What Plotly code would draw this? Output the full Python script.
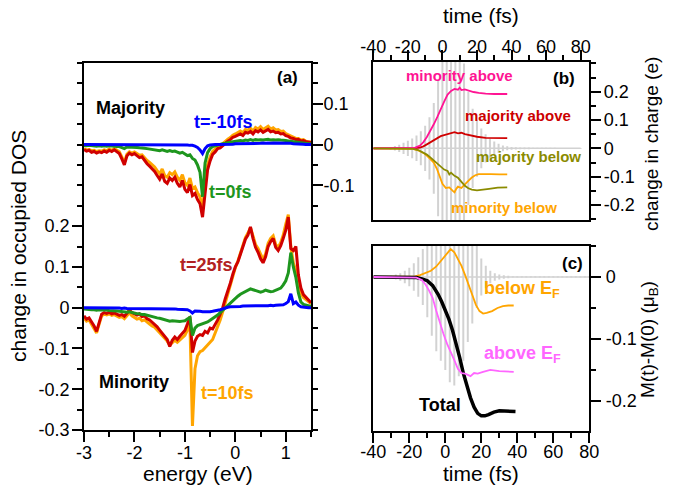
import plotly.graph_objects as go

# ---------------- data: panel (a) ----------------
energy = [-3.00, -2.95, -2.90, -2.85, -2.80, -2.75, -2.70, -2.65, -2.60, -2.55,
          -2.50, -2.45, -2.40, -2.35, -2.30, -2.25, -2.20, -2.15, -2.10, -2.05,
          -2.00, -1.95, -1.90, -1.85, -1.80, -1.75, -1.70, -1.65, -1.60, -1.55,
          -1.50, -1.45, -1.40, -1.35, -1.30, -1.25, -1.20, -1.15, -1.10, -1.05,
          -1.00, -0.95, -0.90, -0.85, -0.80, -0.75, -0.70, -0.65, -0.60, -0.55,
          -0.50, -0.45, -0.40, -0.35, -0.30, -0.25, -0.20, -0.15, -0.10, -0.05,
          0.00, 0.05, 0.10, 0.15, 0.20, 0.25, 0.30, 0.35, 0.40, 0.45,
          0.50, 0.55, 0.60, 0.65, 0.70, 0.75, 0.80, 0.85, 0.90, 0.95,
          1.00, 1.05, 1.10, 1.15, 1.20, 1.25, 1.30, 1.35, 1.40, 1.45, 1.50]

maj_m10 = [0.000, 0.000, 0.000, 0.000, 0.000, 0.000, 0.000, 0.000, 0.000, 0.000,
           0.000, 0.000, 0.000, 0.000, 0.000, 0.000, 0.000, 0.000, 0.000, 0.000,
           0.000, 0.000, 0.000, 0.000, 0.000, 0.000, 0.000, -0.001, -0.001, -0.001,
           -0.001, -0.001, -0.001, -0.001, -0.001, -0.001, -0.001, -0.001, -0.001, -0.001,
           -0.001, -0.001, -0.002, -0.002, -0.004, -0.007, -0.013, -0.022, -0.010, -0.003,
           -0.001, 0.000, 0.000, 0.000, 0.000, 0.000, 0.001, 0.001, 0.001, 0.001,
           0.002, 0.002, 0.002, 0.002, 0.003, 0.003, 0.003, 0.003, 0.003, 0.003,
           0.003, 0.004, 0.003, 0.004, 0.003, 0.004, 0.004, 0.003, 0.004, 0.003,
           0.003, 0.003, 0.003, 0.002, 0.002, 0.001, 0.001, 0.001, 0.000, 0.000, 0.000]

maj_0 = [-0.002, -0.003, -0.002, -0.003, -0.003, -0.004, -0.003, -0.004, -0.003, -0.004,
         -0.003, -0.004, -0.004, -0.005, -0.005, -0.008, -0.010, -0.006, -0.006, -0.007,
         -0.006, -0.007, -0.008, -0.008, -0.009, -0.010, -0.011, -0.012, -0.012, -0.014,
         -0.015, -0.013, -0.016, -0.017, -0.015, -0.017, -0.016, -0.019, -0.021, -0.019,
         -0.024, -0.027, -0.025, -0.034, -0.038, -0.050, -0.068, -0.128, -0.045, -0.020,
         -0.010, -0.005, -0.003, -0.001, 0.000, 0.002, 0.003, 0.005, 0.006, 0.007,
         0.008, 0.009, 0.010, 0.009, 0.011, 0.010, 0.012, 0.010, 0.012, 0.011,
         0.012, 0.011, 0.012, 0.013, 0.011, 0.012, 0.011, 0.012, 0.011, 0.011,
         0.010, 0.009, 0.008, 0.007, 0.006, 0.005, 0.004, 0.004, 0.003, 0.002, 0.002]

maj_10 = [-0.010, -0.013, -0.012, -0.015, -0.014, -0.017, -0.015, -0.016, -0.013, -0.015,
          -0.011, -0.014, -0.010, -0.014, -0.018, -0.030, -0.044, -0.024, -0.018, -0.021,
          -0.018, -0.022, -0.026, -0.025, -0.033, -0.039, -0.044, -0.050, -0.055, -0.064,
          -0.072, -0.060, -0.076, -0.080, -0.069, -0.074, -0.067, -0.080, -0.088, -0.074,
          -0.094, -0.100, -0.082, -0.108, -0.104, -0.118, -0.128, -0.160, -0.095, -0.050,
          -0.030, -0.017, -0.012, -0.005, -0.003, 0.003, 0.008, 0.013, 0.017, 0.023,
          0.026, 0.030, 0.033, 0.029, 0.037, 0.035, 0.040, 0.033, 0.042, 0.038,
          0.044, 0.037, 0.042, 0.045, 0.038, 0.041, 0.036, 0.037, 0.032, 0.033,
          0.027, 0.024, 0.020, 0.018, 0.015, 0.015, 0.011, 0.012, 0.008, 0.007, 0.006]

maj_25 = [-0.012, -0.016, -0.014, -0.019, -0.017, -0.021, -0.018, -0.020, -0.016, -0.019,
          -0.014, -0.017, -0.013, -0.018, -0.022, -0.035, -0.050, -0.028, -0.021, -0.025,
          -0.022, -0.027, -0.032, -0.030, -0.040, -0.047, -0.053, -0.060, -0.066, -0.076,
          -0.085, -0.072, -0.090, -0.095, -0.082, -0.088, -0.080, -0.095, -0.104, -0.088,
          -0.110, -0.118, -0.098, -0.125, -0.120, -0.135, -0.145, -0.178, -0.110, -0.062,
          -0.040, -0.024, -0.018, -0.010, -0.008, -0.002, 0.004, 0.008, 0.012, 0.018,
          0.020, 0.024, 0.026, 0.022, 0.030, 0.028, 0.032, 0.026, 0.034, 0.031,
          0.036, 0.030, 0.034, 0.037, 0.031, 0.033, 0.029, 0.030, 0.026, 0.027,
          0.022, 0.020, 0.016, 0.015, 0.012, 0.013, 0.009, 0.010, 0.007, 0.006, 0.005]

min_m10 = [0.000, 0.000, -0.001, 0.000, -0.001, -0.001, 0.000, -0.001, -0.001, -0.001,
           -0.001, -0.001, -0.001, -0.001, -0.001, -0.002, -0.001, -0.002, -0.002, -0.002,
           -0.002, -0.002, -0.002, -0.002, -0.002, -0.002, -0.002, -0.002, -0.002, -0.002,
           -0.002, -0.002, -0.003, -0.003, -0.003, -0.003, -0.003, -0.004, -0.004, -0.004,
           -0.004, -0.005, -0.008, -0.013, -0.008, -0.008, -0.009, -0.010, -0.010, -0.011,
           -0.010, -0.009, -0.008, -0.007, -0.005, -0.003, 0.000, 0.001, 0.002, 0.002,
           0.003, 0.003, 0.003, 0.004, 0.004, 0.004, 0.004, 0.005, 0.004, 0.005,
           0.005, 0.005, 0.005, 0.005, 0.006, 0.005, 0.006, 0.006, 0.006, 0.007,
           0.010, 0.015, 0.034, 0.010, 0.014, 0.006, 0.002, 0.001, 0.000, 0.000, 0.000]

min_0 = [-0.003, -0.004, -0.004, -0.005, -0.005, -0.006, -0.005, -0.005, -0.006, -0.006,
         -0.007, -0.007, -0.008, -0.008, -0.009, -0.010, -0.011, -0.011, -0.010, -0.012,
         -0.014, -0.015, -0.015, -0.017, -0.017, -0.019, -0.020, -0.022, -0.023, -0.025,
         -0.026, -0.028, -0.029, -0.031, -0.033, -0.032, -0.033, -0.034, -0.034, -0.033,
         -0.032, -0.028, -0.024, -0.068, -0.050, -0.044, -0.042, -0.040, -0.037, -0.035,
         -0.031, -0.027, -0.022, -0.018, -0.012, -0.006, 0.000, 0.006, 0.012, 0.018,
         0.024, 0.028, 0.033, 0.036, 0.040, 0.042, 0.046, 0.044, 0.042, 0.040,
         0.038, 0.040, 0.043, 0.041, 0.039, 0.040, 0.043, 0.045, 0.048, 0.056,
         0.066, 0.085, 0.135, 0.100, 0.074, 0.036, 0.014, 0.008, 0.006, 0.005, 0.004]

min_10 = [-0.025, -0.033, -0.030, -0.040, -0.052, -0.062, -0.040, -0.020, -0.016, -0.018,
          -0.015, -0.019, -0.017, -0.020, -0.024, -0.022, -0.027, -0.020, -0.012, -0.020,
          -0.025, -0.028, -0.026, -0.032, -0.030, -0.036, -0.040, -0.045, -0.048, -0.055,
          -0.062, -0.068, -0.074, -0.082, -0.092, -0.086, -0.080, -0.085, -0.080, -0.074,
          -0.068, -0.055, -0.040, -0.290, -0.150, -0.118, -0.108, -0.105, -0.098, -0.092,
          -0.085, -0.078, -0.062, -0.048, -0.030, -0.010, 0.012, 0.034, 0.055, 0.078,
          0.098, 0.114, 0.135, 0.155, 0.172, 0.183, 0.196, 0.176, 0.155, 0.145,
          0.130, 0.118, 0.132, 0.158, 0.170, 0.176, 0.155, 0.148, 0.160, 0.178,
          0.205, 0.228, 0.150, 0.110, 0.090, 0.055, 0.035, 0.025, 0.020, 0.015, 0.010]

min_25 = [-0.020, -0.028, -0.025, -0.034, -0.045, -0.058, -0.035, -0.016, -0.012, -0.014,
          -0.011, -0.015, -0.013, -0.016, -0.019, -0.017, -0.021, -0.014, -0.006, -0.012,
          -0.016, -0.018, -0.015, -0.022, -0.020, -0.027, -0.030, -0.036, -0.040, -0.047,
          -0.055, -0.062, -0.070, -0.078, -0.095, -0.080, -0.072, -0.078, -0.070, -0.064,
          -0.056, -0.040, -0.022, -0.110, -0.082, -0.070, -0.066, -0.068, -0.058, -0.062,
          -0.050, -0.052, -0.042, -0.030, -0.016, 0.000, 0.022, 0.040, 0.060, 0.082,
          0.100, 0.112, 0.132, 0.150, 0.168, 0.178, 0.198, 0.170, 0.148, 0.136,
          0.120, 0.110, 0.125, 0.150, 0.162, 0.170, 0.148, 0.140, 0.152, 0.170,
          0.190, 0.222, 0.145, 0.140, 0.150, 0.080, 0.048, 0.032, 0.026, 0.018, 0.012]

# ---------------- data: panel (b) ----------------
t_min_above = [-40, -30, -20, -16, -13, -11, -9, -7, -5, -3, -1, 1, 3, 5, 7, 9, 10, 11, 13, 15, 18, 21, 25, 30, 37.5]
v_min_above = [0, 0, 0, 0.002, 0.010, 0.022, 0.040, 0.060, 0.085, 0.110, 0.140, 0.165, 0.190, 0.203, 0.210,
               0.207, 0.214, 0.206, 0.208, 0.204, 0.199, 0.196, 0.193, 0.192, 0.192]

t_maj_above = [-40, -30, -20, -16, -13, -11, -9, -7, -5, -3, -1, 1, 3, 5, 7, 9, 11, 13, 16, 20, 25, 30, 37.5]
v_maj_above = [0, 0, 0, 0.001, 0.003, 0.007, 0.014, 0.022, 0.030, 0.037, 0.043, 0.047, 0.050, 0.054, 0.057,
               0.053, 0.055, 0.050, 0.046, 0.041, 0.037, 0.036, 0.036]

t_maj_below = [-40, -30, -20, -17, -14, -11, -9, -7, -5, -3, -1, 1, 3, 4, 5, 7, 9, 11, 13, 15, 17, 20, 23, 27, 32, 37.5]
v_maj_below = [0, 0, 0, -0.002, -0.006, -0.014, -0.022, -0.032, -0.042, -0.052, -0.065, -0.075, -0.080, -0.092,
               -0.086, -0.097, -0.104, -0.118, -0.132, -0.141, -0.146, -0.148, -0.147, -0.143, -0.139, -0.138]

t_min_below = [-40, -30, -20, -17, -14, -11, -9, -7, -5, -3, -1, 0, 2, 4, 6, 7, 8, 9, 11, 13, 15, 17, 19, 21, 24, 28, 33, 37.5]
v_min_below = [0, 0, 0, -0.002, -0.007, -0.016, -0.026, -0.037, -0.050, -0.075, -0.110, -0.125, -0.140, -0.138,
               -0.150, -0.155, -0.143, -0.135, -0.140, -0.126, -0.115, -0.103, -0.095, -0.091, -0.090, -0.091,
               -0.092, -0.092]

# ---------------- data: panel (c) ----------------
t_total = [-40, -30, -20, -16, -13, -10, -7, -4, -2, 0, 2, 4, 6, 8, 10, 12, 14, 16, 18, 20, 22, 24, 27, 30, 34, 39]
v_total = [0, 0, 0, -0.001, -0.003, -0.006, -0.014, -0.028, -0.040, -0.053, -0.068, -0.086, -0.106, -0.130,
           -0.155, -0.176, -0.195, -0.210, -0.220, -0.224, -0.224, -0.222, -0.218, -0.216, -0.216, -0.217]

t_below_ef = [-40, -30, -20, -17, -14, -11, -8, -5, -2, 0, 2, 3, 5, 7, 9, 11, 13, 15, 17, 19, 21, 23, 26, 29, 32, 35, 38]
v_below_ef = [0, 0, 0, 0.001, 0.003, 0.006, 0.010, 0.017, 0.027, 0.035, 0.042, 0.045, 0.040, 0.030, 0.018,
              0.003, -0.013, -0.030, -0.045, -0.055, -0.059, -0.058, -0.055, -0.050, -0.047, -0.046, -0.046]

t_above_ef = [-40, -30, -20, -16, -13, -11, -9, -7, -5, -3, -1, 1, 3, 5, 7, 9, 11, 13, 14, 16, 18, 21, 25, 30, 34, 38]
v_above_ef = [0, 0, 0, -0.001, -0.005, -0.012, -0.022, -0.034, -0.055, -0.075, -0.092, -0.108, -0.120, -0.134,
              -0.148, -0.155, -0.156, -0.159, -0.160, -0.155, -0.156, -0.153, -0.150, -0.152, -0.152, -0.153]

# laser pulse (grey): amplitude of each half-cycle, drawn as vertical strokes
t_pulse = [-30, -27.5, -25, -22.5, -20, -17.5, -15, -12.5, -10, -7.5, -5, -2.5, 0, 2.5, 5, 7.5, 10, 12.5,
           15, 17.5, 20, 22.5, 25, 27.5, 30, 32.5, 35, 37.5, 40, 42.5, 45, 47.5, 50, 52.5, 55, 57.5,
           60, 62.5, 65, 67.5, 70, 72.5, 75, 77.5, 80]
pulse_b = [0.004, 0.008, 0.013, 0.020, 0.027, 0.035, 0.045, 0.060, 0.080, 0.110, 0.160, 0.240, 0.330,
           0.400, 0.430, 0.420, 0.370, 0.300, 0.200, 0.140, 0.100, 0.070, 0.050, 0.035, 0.024, 0.016, 0.010,
           0.007, 0.005, 0.004, 0.003, 0.003, 0.003, 0.002, 0.002, 0.002, 0.002, 0.002, 0.002,
           0.001, 0.001, 0.001, 0.001, 0.001, 0.001]
pulse_c = [0.002, 0.004, 0.006, 0.010, 0.015, 0.022, 0.032, 0.045, 0.065, 0.095, 0.120, 0.135, 0.150,
           0.170, 0.175, 0.160, 0.135, 0.105, 0.075, 0.050, 0.030, 0.018, 0.010, 0.006, 0.004, 0.003,
           0.002, 0.001, 0.001, 0.001, 0.001, 0.001, 0.001, 0.001, 0.001, 0.001, 0.001, 0.001,
           0.001, 0.001, 0.001, 0.001, 0.001, 0.001, 0.001]

# tick labels
a_left_vals = [-0.3, -0.2, -0.1, 0.0, 0.1, 0.2]
a_left_text = ["-0.3", "-0.2", "-0.1", "0", "0.1", "0.2"]
a_right_vals = [-0.1, 0.0, 0.1]
a_right_text = ["-0.1", "0", "0.1"]
a_right_unlabeled = [-0.7, -0.6, -0.5, -0.4, -0.3, -0.2, 0.2]
e_vals = [-3, -2, -1, 0, 1]
e_text = ["-3", "-2", "-1", "0", "1"]
time_vals = [-40, -20, 0, 20, 40, 60, 80]
time_text = ["-40", "-20", "0", "20", "40", "60", "80"]
b_vals = [-0.2, -0.1, 0.0, 0.1, 0.2]
b_text = ["-0.2", "-0.1", "0", "0.1", "0.2"]
c_vals = [-0.2, -0.1, 0.0]
c_text = ["-0.2", "-0.1", "0"]

# ---------------- styling ----------------
W, H = 676, 485
FONT = "Liberation Sans, Arial, Helvetica, sans-serif"
BLUE, GREEN, ORANGE, RED = "#0000FF", "#1E961E", "#FFA500", "#D00000"
PINK, OLIVE, MAGENTA, GREY = "#FF1493", "#8B8B00", "#FF66FF", "#D2D2D2"


def px(x, y):
    return x / W, 1 - y / H


def strokes(ts, amps):
    xs, ys = [], []
    for t, a in zip(ts, amps):
        xs += [t, t, None]
        ys += [-a, a, None]
    return xs, ys


fig = go.Figure()

# panel (a)
for vals, col, ax in [(min_10, ORANGE, "y"), (min_25, RED, "y"), (min_0, GREEN, "y"), (min_m10, BLUE, "y"),
                      (maj_10, ORANGE, "y2"), (maj_25, RED, "y2"), (maj_0, GREEN, "y2"), (maj_m10, BLUE, "y2")]:
    fig.add_trace(go.Scatter(x=energy, y=vals, mode="lines", line=dict(color=col, width=3),
                             xaxis="x", yaxis=ax, showlegend=False, hoverinfo="skip"))

# panel (b)
pbx, pby = strokes(t_pulse, pulse_b)
fig.add_trace(go.Scatter(x=pbx, y=pby, mode="lines", line=dict(color=GREY, width=2),
                         xaxis="x2", yaxis="y3", showlegend=False, connectgaps=False))
fig.add_trace(go.Scatter(x=[t_pulse[0], t_pulse[-1]], y=[0, 0], mode="lines", line=dict(color=GREY, width=1.5),
                         xaxis="x2", yaxis="y3", showlegend=False))
for tt, vv, col in [(t_min_below, v_min_below, ORANGE), (t_maj_above, v_maj_above, RED),
                    (t_min_above, v_min_above, PINK), (t_maj_below, v_maj_below, OLIVE)]:
    fig.add_trace(go.Scatter(x=tt, y=vv, mode="lines", line=dict(color=col, width=1.8),
                             xaxis="x2", yaxis="y3", showlegend=False))

# panel (c)
pcx, pcy = strokes(t_pulse, pulse_c)
fig.add_trace(go.Scatter(x=pcx, y=pcy, mode="lines", line=dict(color=GREY, width=2),
                         xaxis="x3", yaxis="y4", showlegend=False, connectgaps=False))
fig.add_trace(go.Scatter(x=[t_pulse[0], t_pulse[-1]], y=[0, 0], mode="lines", line=dict(color=GREY, width=1.5),
                         xaxis="x3", yaxis="y4", showlegend=False))
fig.add_trace(go.Scatter(x=t_below_ef, y=v_below_ef, mode="lines", line=dict(color=ORANGE, width=1.8),
                         xaxis="x3", yaxis="y4", showlegend=False))
fig.add_trace(go.Scatter(x=t_total, y=v_total, mode="lines", line=dict(color="black", width=3.5),
                         xaxis="x3", yaxis="y4", showlegend=False))
fig.add_trace(go.Scatter(x=t_above_ef, y=v_above_ef, mode="lines", line=dict(color=MAGENTA, width=1.8),
                         xaxis="x3", yaxis="y4", showlegend=False))

TICKFONT = dict(family=FONT, size=18, color="black")
common = dict(showgrid=False, zeroline=False, showline=True, linecolor="black", linewidth=1.6,
              ticks="outside", ticklen=10, tickwidth=1.5, tickcolor="black", tickfont=TICKFONT)
minor = lambda d, t0: dict(dtick=d, tick0=t0, ticklen=5, tickwidth=1.5, tickcolor="black", ticks="outside")

ya_dom = [1 - 430 / H, 1 - 63 / H]
fig.update_layout(
    width=W, height=H, margin=dict(l=0, r=0, t=0, b=0),
    template="none", paper_bgcolor="white", plot_bgcolor="white", showlegend=False,
    font=dict(family=FONT, color="black"),
    xaxis=dict(domain=[84 / W, 311 / W], anchor="y", range=[-3, 1.5], tickvals=e_vals, ticktext=e_text,
               minor=minor(0.5, 0), mirror=True, ticklabelstandoff=-4, **common),
    yaxis=dict(domain=ya_dom, anchor="x", range=[-0.3, 0.6],
               tickvals=a_left_vals, ticktext=a_left_text, minor=minor(0.05, 0), ticklabelstandoff=-1,
               **common),
    yaxis2=dict(domain=ya_dom, anchor="x", overlaying="y", side="right",
                range=[-0.7, 0.2], tickvals=a_right_vals, ticktext=a_right_text, minor=minor(0.05, 0),
                ticklabelstandoff=-3, **common),
    yaxis5=dict(domain=ya_dom, anchor="x", overlaying="y", side="right", range=[-0.7, 0.2],
                tickvals=a_right_unlabeled, showticklabels=False, showgrid=False, zeroline=False,
                showline=False, ticks="outside", ticklen=10, tickwidth=1.5, tickcolor="black"),
    xaxis2=dict(domain=[373.3 / W, 589.3 / W], anchor="y3", side="top", range=[-40, 85],
                tickvals=time_vals, ticktext=time_text, minor=minor(10, 0), mirror=True,
                ticklabelstandoff=-10, **common),
    yaxis3=dict(domain=[1 - 220 / H, 1 - 61.7 / H], anchor="x2", side="right", range=[-0.253, 0.306],
                tickvals=b_vals, ticktext=b_text, minor=minor(0.05, 0), mirror=True, ticklabelstandoff=-1,
                **common),
    xaxis3=dict(domain=[373.3 / W, 589.3 / W], anchor="y4", side="bottom", range=[-40, 80],
                tickvals=time_vals, ticktext=time_text, minor=minor(10, 0), mirror=True,
                ticklabelstandoff=-6, **common),
    yaxis4=dict(domain=[1 - 430.7 / H, 1 - 246 / H], anchor="x3", side="right", range=[-0.248, 0.05],
                tickvals=c_vals, ticktext=c_text, minor=minor(0.05, 0), mirror=True, ticklabelstandoff=1,
                **common),
)

anns = []


def ann(text, x, y, size, color="black", xanchor="center", angle=0):
    xx, yy = px(x, y)
    anns.append(dict(text=text, x=xx, y=yy, xref="paper", yref="paper", showarrow=False,
                     xanchor=xanchor, yanchor="middle", textangle=angle,
                     font=dict(family=FONT, size=size, color=color)))


# axis titles
ann("energy (eV)", 197.5, 473, 21)
ann("change in occupied DOS", 18, 246, 21, angle=-90)
ann("time (fs)", 481.5, 16, 21)
ann("time (fs)", 481.5, 473, 21)
ann("change in charge (e)", 651, 144, 19, angle=-90)
ann("M(t)-M(0) (μ<sub>B</sub>)", 649, 340, 19, angle=-90)

# panel labels
ann("<b>(a)</b>", 287.5, 77, 17)
ann("<b>Majority</b>", 94, 107.5, 18, xanchor="left")
ann("<b>Minority</b>", 97, 381.5, 18, xanchor="left")
ann("<b>t=-10fs</b>", 223.5, 122, 18, BLUE)
ann("<b>t=0fs</b>", 230.5, 192, 18, GREEN)
ann("<b>t=25fs</b>", 206, 265, 18, "#B22222")
ann("<b>t=10fs</b>", 227.5, 393, 18, ORANGE)

ann("<b>(b)</b>", 564, 79, 17)
ann("<b>minority above</b>", 459, 75, 15, PINK)
ann("<b>majority above</b>", 518, 115, 15, "#CC0000")
ann("<b>majority below</b>", 528.5, 157, 15, OLIVE)
ann("<b>minority below</b>", 504, 207, 15, ORANGE)

ann("<b>(c)</b>", 572.5, 263, 17)
ann("<b>below E<sub>F</sub></b>", 481.5, 289, 18, ORANGE, xanchor="left")
ann("<b>above E<sub>F</sub></b>", 481.5, 354, 18, MAGENTA, xanchor="left")
ann("<b>Total</b>", 440, 405, 18)

fig.update_layout(annotations=anns)
fig.write_html("out.html")
